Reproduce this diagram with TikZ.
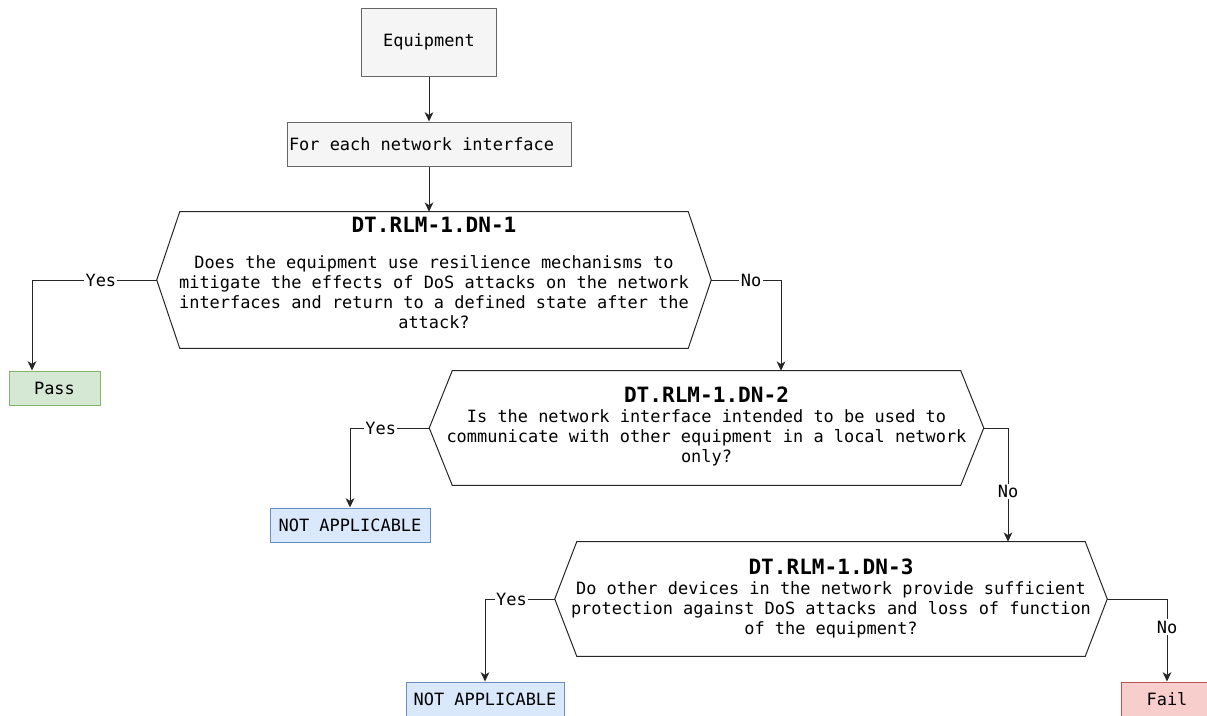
\documentclass[tikz,border=0pt]{standalone}
\usepackage{fontspec}
\setmonofont{DejaVu Sans Mono}
\usetikzlibrary{positioning,calc,arrows.meta}
\definecolor{boxgray}{HTML}{F5F5F5}\definecolor{linegray}{HTML}{666666}
\definecolor{passfill}{HTML}{D5E8D4}\definecolor{passline}{HTML}{82B366}
\definecolor{nafill}{HTML}{DAE8FC}\definecolor{naline}{HTML}{6C8EBF}
\definecolor{failfill}{HTML}{F8CECC}\definecolor{failline}{HTML}{B85450}
\newcommand{\pxu}{0.75pt}

\begin{document}
\begin{tikzpicture}[x=0.75pt,y=-0.75pt,font=\ttfamily\fontsize{12.7}{15}\selectfont,
 gbox/.style = {draw=linegray, fill=boxgray, line width=0.75pt, inner sep=0pt},
 result/.style = {draw=#1line, fill=#1fill, line width=0.75pt, minimum height=34*\pxu, inner sep=0pt},
 hexbox/.style = {minimum width=508*\pxu, inner sep=0pt},
 hexline/.style = {draw=black!85, line width=0.75pt},
 title/.style = {font=\ttfamily\bfseries\fontsize{15.8}{18}\selectfont},
 body/.style = {align=center},
 link/.style = {draw=black!85, line width=0.75pt, -{Stealth[length=7pt,width=6.5pt,inset=2pt]}},
 lbl/.style = {fill=white, inner sep=1pt}]
\useasboundingbox (0,0) rectangle (1207,715);
\node[gbox, minimum width=135*\pxu, minimum height=68*\pxu](eq) at (429,42) {Equipment};
\node[gbox, minimum width=284*\pxu, minimum height=44*\pxu, text width=280*\pxu, align=flush left](net) at (429,144) {For each network interface};
\node[hexbox, minimum height=136*\pxu](q1) at (434,280) {}; \coordinate (q1l) at ($(q1.west)+(-23,0)$); \coordinate (q1r) at ($(q1.east)+(23,0)$);
\node[hexbox, minimum height=114*\pxu](q2) at (706.5,428) {}; \coordinate (q2l) at ($(q2.west)+(-23,0)$); \coordinate (q2r) at ($(q2.east)+(23,0)$);
\node[hexbox, minimum height=114*\pxu](q3) at (831,599) {}; \coordinate (q3l) at ($(q3.west)+(-22,0)$); \coordinate (q3r) at ($(q3.east)+(22,0)$);
\foreach \q in {q1,q2,q3} {\draw[hexline] (\q.north west) -- (\q.north east) -- (\q r) -- (\q.south east) -- (\q.south west) -- (\q l) -- cycle;}
\node[title](t1) at ($(q1.north)+(0,13)$) {DT.RLM-1.DN-1};
\node[body](b1) at ($(q1.center)+(0,12)$) {Does the equipment use resilience mechanisms to\\mitigate the effects of DoS attacks on the network\\interfaces and return to a defined state after the\\attack?};
\node[title](t2) at ($(q2.north)+(0,24)$) {DT.RLM-1.DN-2};
\node[body](b2) at ($(q2.center)+(0,10)$) {Is the network interface intended to be used to\\communicate with other equipment in a local network\\only?};
\node[title](t3) at ($(q3.north)+(0,25)$) {DT.RLM-1.DN-3};
\node[body](b3) at ($(q3.center)+(0,11)$) {Do other devices in the network provide sufficient\\protection against DoS attacks and loss of function\\of the equipment?};
\node[result=pass, minimum width=91*\pxu](pass) at (54.5,388) {Pass};
\node[result=na, minimum width=160*\pxu](na1) at (350,525) {NOT APPLICABLE};
\node[result=na, minimum width=158*\pxu](na2) at (485,699) {NOT APPLICABLE};
\node[result=fail, minimum width=92*\pxu](fail) at (1167,699) {Fail};
\draw[link] (eq) -- (net); \draw[link] (net) -- (net |- q1.north);
\draw[link] (q1l) -| node[lbl, pos=0.224](y1) {Yes} ($(pass.north)+(-22.5,0)$);
\draw[link] (q1r) -| node[lbl, pos=0.285](n1) {No} ($(q2.north)+(74.5,0)$);
\draw[link] (q2l) -| node[lbl, pos=0.306](y2) {Yes} (na1);
\draw[link] (q2r) -| node[lbl, pos=0.78](n2) {No} ($(q3.north)+(177,0)$);
\draw[link] (q3l) -| node[lbl, pos=0.31](y3) {Yes} (na2);
\draw[link] (q3r) -| node[lbl, pos=0.67](n3) {No} (fail);
\end{tikzpicture}
\end{document}
